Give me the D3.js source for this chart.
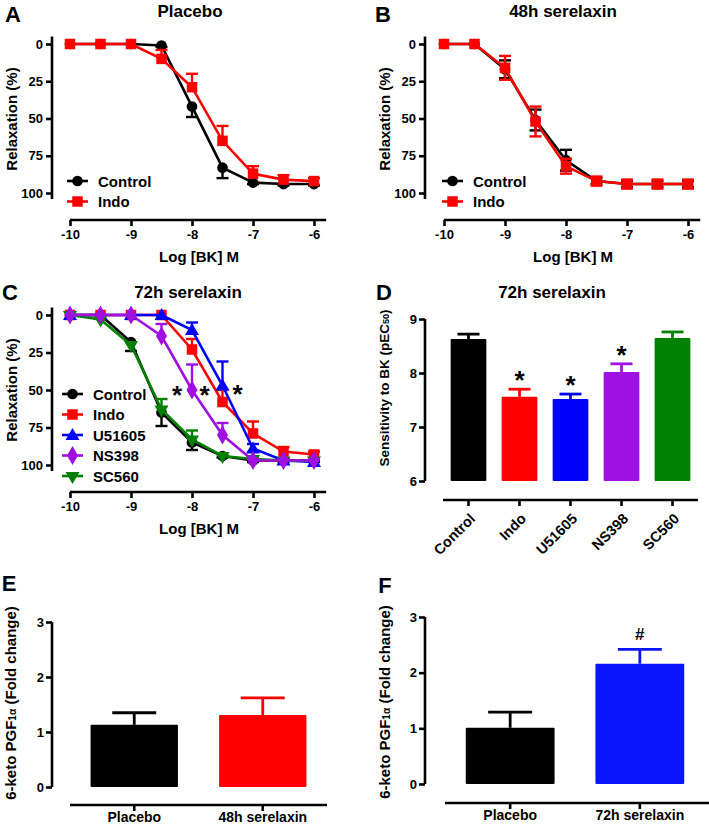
<!DOCTYPE html>
<html><head><meta charset="utf-8">
<script src="https://cdn.jsdelivr.net/npm/d3@7"></script>
<style>
body{margin:0;background:#fff}
text{font-family:"Liberation Sans",Arial,sans-serif;font-weight:bold;fill:#000}
</style>
</head><body><svg id="c" width="709" height="826"></svg>
<script>
// ---------- DATA ----------
const doses = [-10, -9.5, -9, -8.5, -8, -7.5, -7, -6.5, -6];
const doseTicks = [-10, -9, -8, -7, -6];
const relaxTicks = [0, 25, 50, 75, 100];

// Panel A (Placebo)
const placeboControl = [0, 0, 0, 1, 42, 83, 93, 94, 94];
const placeboControlErr = [0, 0, 0, 1, 7, 7, 1, 1, 1];
const placeboIndo = [0, 0, 0, 10, 29, 65, 87, 91, 92];
const placeboIndoErr = [0, 0, 0, 6, 9, 10, 5, 3, 2];

// Panel B (48h serelaxin)
const s48Control = [0, 0, 17, 51, 78, 92, 94, 94, 94];
const s48ControlErr = [0, 0, 6, 7, 7, 2, 2, 2, 2];
const s48Indo = [0, 0, 16, 52, 82, 92, 94, 94, 94];
const s48IndoErr = [0, 0, 8, 10, 5, 3, 3, 3, 3];

// Panel C (72h serelaxin)
const s72Control = [0, 0, 18, 65, 85, 94, 97, 97, 97];
const s72ControlErr = [0, 0, 6, 9, 5, 1, 1, 1, 1];
const s72Indo = [0, 0, 0, 0, 23, 58, 79, 91, 93];
const s72IndoErr = [0, 0, 0, 0, 7, 8, 8, 3, 2];
const s72U51605 = [0, 0, 0, 0, 10, 47, 89, 97, 98];
const s72U51605Err = [0, 0, 0, 0, 5, 16, 3, 1, 1];
const s72NS398 = [0, 0, 0, 14, 50, 80, 97, 97, 97];
const s72NS398Err = [0, 0, 0, 8, 17, 8, 1, 1, 1];
const s72SC560 = [0, 3, 20, 63, 83, 94, 96, 97, 97];
const s72SC560Err = [0, 0, 0, 7, 6, 1, 1, 1, 1];

// Panel D
const dCategories = ["Control", "Indo", "U51605", "NS398", "SC560"];
const dPEC50 = [8.63, 7.56, 7.52, 8.02, 8.65];
const dPEC50Err = [0.09, 0.14, 0.09, 0.15, 0.11];
const dSig = ["", "*", "*", "*", ""];
const dTicks = [6, 7, 8, 9];

// Panel E
const eCategories = ["Placebo", "48h serelaxin"];
const eFold = [1.13, 1.31];
const eFoldErr = [0.22, 0.31];
const eSig = ["", ""];
// Panel F
const fCategories = ["Placebo", "72h serelaxin"];
const fFold = [1.01, 2.16];
const fFoldErr = [0.28, 0.26];
const fSig = ["", "#"];
const foldTicks = [0, 1, 2, 3];

// ---------- STYLE ----------
const C = {black:"#000000", red:"#ff0000", blue:"#0000ff", purple:"#a010e0", green:"#008000"};
const svg = d3.select("#c");
const SW = 2.6;

function styleAxis(g){
  g.selectAll(".domain").attr("stroke","#000").attr("stroke-width",SW).attr("fill","none");
  g.selectAll(".tick line").attr("stroke","#000").attr("stroke-width",SW);
  g.selectAll(".tick text").attr("font-family","Liberation Sans, Arial, sans-serif").attr("font-weight","bold").attr("font-size",13).attr("fill","#000");
}

function symbolPath(shape, size){
  const map = {circle:d3.symbolCircle, square:d3.symbolSquare, triangle:d3.symbolTriangle, diamond:d3.symbolDiamond, triDown:d3.symbolTriangle};
  return d3.symbol().type(map[shape]).size(size)();
}
const symSize = {circle:90, square:110, triangle:85, diamond:105, triDown:85};
function marker(g, shape, color, cx, cy){
  g.append("path").attr("d", symbolPath(shape, symSize[shape]))
   .attr("transform", `translate(${cx},${cy})` + (shape==="triDown" ? " rotate(180)" : (shape==="triangle"?" translate(0,1)":"")))
   .attr("fill", color);
}

function label(x, y, txt, size, opts={}){
  const t = svg.append("text").attr("x",x).attr("y",y).attr("font-size",size)
    .attr("text-anchor", opts.anchor || "middle").attr("dominant-baseline","central").text(txt);
  return t;
}
function rotLabel(x, y, parts, size){
  const t = svg.append("text").attr("transform",`translate(${x},${y}) rotate(-90)`)
    .attr("text-anchor","middle").attr("dominant-baseline","central").attr("font-size",size);
  parts.forEach(p=>{
    const ts = t.append("tspan").text(p.t);
    if(p.sub){ ts.attr("font-size", size*0.68).attr("baseline-shift","-25%"); }
  });
}

function lineChart(o){
  const x = d3.scaleLinear().domain([-10,-6]).range([o.x0, o.x1]);
  const y = d3.scaleLinear().domain([0,100]).range([o.y0, o.y100]);
  const g = svg.append("g");
  const ya = g.append("g").attr("transform",`translate(${o.ax},0)`)
    .call(d3.axisLeft(y).tickValues(relaxTicks).tickSize(6).tickPadding(3));
  ya.select(".domain").attr("d", `M0,${y(-5)}V${y(104)}`);
  styleAxis(ya);
  const xa = g.append("g").attr("transform",`translate(0,${o.axisY})`)
    .call(d3.axisBottom(x).tickValues(doseTicks).tickFormat(d=>String(d)).tickSize(6).tickPadding(4));
  xa.select(".domain").attr("d", `M${x(-10)},0H${x(-5.8)}`);
  styleAxis(xa);
  label((x(-10)+x(-5.8))/2 + 1, o.axisY + 36, "Log [BK] M", 15);

  const line = d3.line().x((d,i)=>x(doses[i])).y(d=>y(d));
  o.series.forEach(s=>{
    const sg = g.append("g");
    sg.append("path").attr("d", line(s.v)).attr("fill","none").attr("stroke",s.color).attr("stroke-width",2.6);
    s.v.forEach((v,i)=>{
      const e = s.e[i]; if(!e) return;
      const cx = x(doses[i]);
      const ends = s.dir==="down" ? [v+e] : s.dir==="up" ? [v-e] : [v-e, v+e];
      ends.forEach(en=>{
        sg.append("line").attr("x1",cx).attr("x2",cx).attr("y1",y(v)).attr("y2",y(en)).attr("stroke",s.color).attr("stroke-width",2.4);
        sg.append("line").attr("x1",cx-6).attr("x2",cx+6).attr("y1",y(en)).attr("y2",y(en)).attr("stroke",s.color).attr("stroke-width",2.4);
      });
    });
    s.v.forEach((v,i)=> marker(sg, s.shape, s.color, x(doses[i]), y(v)));
  });
  // legend
  o.legendOrder.forEach((s,k)=>{
    const ly = o.leg.y + k*o.leg.dy;
    g.append("line").attr("x1",o.leg.x).attr("x2",o.leg.x+21).attr("y1",ly).attr("y2",ly).attr("stroke",s.color).attr("stroke-width",2.6);
    marker(g, s.shape, s.color, o.leg.x+10.5, ly);
    label(o.leg.x+31, ly, s.name, 15, {anchor:"start"});
  });
  return {x,y};
}

function barChart(o){
  const x = d3.scaleBand().domain(o.cats).range([o.x0,o.x1]).paddingInner(o.pi).paddingOuter(o.po);
  const y = d3.scaleLinear().domain(o.dom).range(o.rng);
  const g = svg.append("g");
  const ya = g.append("g").attr("transform",`translate(${o.ax},0)`)
    .call(d3.axisLeft(y).tickValues(o.ticks).tickSize(6).tickPadding(2).tickFormat(d=>String(d)));
  ya.select(".domain").attr("d", `M0,${y(o.dom[1])}V${y(o.dom[0])}`);
  styleAxis(ya);
  const xa = g.append("g").attr("transform",`translate(0,${o.axisY})`)
    .call(d3.axisBottom(x).tickSize(6).tickPadding(2));
  xa.select(".domain").attr("d", `M${o.x0},0H${o.xEnd}`);
  styleAxis(xa);
  if(o.rotate){
    xa.selectAll(".tick text").attr("text-anchor","end").attr("font-size",14.5)
      .attr("y",0).attr("dx","0").attr("dy","0.35em")
      .attr("transform","translate(4,16) rotate(-45)");
  } else {
    xa.selectAll(".tick text").attr("font-size",14).attr("y",7).attr("dy","0.71em");
  }
  o.cats.forEach((c,i)=>{
    const bx = x(c), bw = x.bandwidth(), col = o.colors[i];
    const top = y(o.vals[i]), et = y(o.vals[i]+o.errs[i]);
    g.append("line").attr("x1",bx+bw/2).attr("x2",bx+bw/2).attr("y1",top).attr("y2",et).attr("stroke",col).attr("stroke-width",2.8);
    g.append("line").attr("x1",bx+bw/2-o.cap/2).attr("x2",bx+bw/2+o.cap/2).attr("y1",et).attr("y2",et).attr("stroke",col).attr("stroke-width",2.8);
    g.append("rect").attr("x",bx).attr("y",top).attr("width",bw).attr("height",y(o.dom[0])-top).attr("fill",col).attr("rx",1);
    if(o.sig[i]){
      label(bx+bw/2, et - o.sigOff, o.sig[i], o.sigSize);
    }
  });
}

// ---------- PANEL A ----------
lineChart({
  x0:70, x1:314, ax:52, y0:44, y100:193, axisY:220,
  series:[
    {name:"Control", v:placeboControl, e:placeboControlErr, dir:"down", color:C.black, shape:"circle"},
    {name:"Indo", v:placeboIndo, e:placeboIndoErr, dir:"up", color:C.red, shape:"square"}
  ],
  get legendOrder(){return this.series;},
  leg:{x:67, y:181, dy:20.5}
});
label(190, 11, "Placebo", 17);
label(13, 14, "A", 22);
rotLabel(11, 119, [{t:"Relaxation (%)"}], 15);

// ---------- PANEL B ----------
lineChart({
  x0:444, x1:688, ax:425, y0:44, y100:193, axisY:220,
  series:[
    {name:"Control", v:s48Control, e:s48ControlErr, dir:"both", color:C.black, shape:"circle"},
    {name:"Indo", v:s48Indo, e:s48IndoErr, dir:"both", color:C.red, shape:"square"}
  ],
  get legendOrder(){return this.series;},
  leg:{x:442, y:181, dy:20.5}
});
label(563, 11, "48h serelaxin", 17);
label(383, 14, "B", 22);
rotLabel(384, 119, [{t:"Relaxation (%)"}], 15);

// ---------- PANEL C ----------
const cSeries = {
  control:{name:"Control", v:s72Control, e:s72ControlErr, dir:"down", color:C.black, shape:"circle"},
  indo:{name:"Indo", v:s72Indo, e:s72IndoErr, dir:"up", color:C.red, shape:"square"},
  u:{name:"U51605", v:s72U51605, e:s72U51605Err, dir:"up", color:C.blue, shape:"triangle"},
  ns:{name:"NS398", v:s72NS398, e:s72NS398Err, dir:"up", color:C.purple, shape:"diamond"},
  sc:{name:"SC560", v:s72SC560, e:s72SC560Err, dir:"up", color:C.green, shape:"triDown"}
};
const cs = lineChart({
  x0:70, x1:314, ax:52, y0:315, y100:465, axisY:492,
  series:[cSeries.control, cSeries.indo, cSeries.u, cSeries.sc, cSeries.ns],
  legendOrder:[cSeries.control, cSeries.indo, cSeries.u, cSeries.ns, cSeries.sc],
  leg:{x:62, y:394, dy:20.5}
});
// significance asterisks next to curves
label(cs.x(-8)-15, cs.y(50)+5, "*", 26);
label(cs.x(-7.5)-18, cs.y(50)+5, "*", 26);
label(cs.x(-7.5)+15, cs.y(49)+5, "*", 26);
label(188, 292, "72h serelaxin", 17);
label(10, 292, "C", 22);
rotLabel(11, 390, [{t:"Relaxation (%)"}], 15);

// ---------- PANEL D ----------
barChart({
  cats:dCategories, vals:dPEC50, errs:dPEC50Err, sig:dSig,
  colors:[C.black, C.red, C.blue, C.purple, C.green],
  x0:443, x1:698, xEnd:698, pi:0.3, po:0.15, axisY:500, ax:425,
  dom:[6,9], rng:[481,319], ticks:dTicks, cap:22, rotate:true, sigOff:9, sigSize:26
});
label(552, 292, "72h serelaxin", 17);
label(384, 292, "D", 22);
rotLabel(384, 388, [{t:"Sensitivity to BK (pEC"},{t:"50",sub:true},{t:")"}], 13.5);

// ---------- PANEL E ----------
barChart({
  cats:eCategories, vals:eFold, errs:eFoldErr, sig:eSig,
  colors:[C.black, C.red],
  x0:70, x1:327, xEnd:327, pi:0.32, po:0.16, axisY:805, ax:52,
  dom:[0,3], rng:[787,622], ticks:foldTicks, cap:44, rotate:false, sigOff:14, sigSize:17
});
label(9, 583, "E", 22);
rotLabel(10, 703, [{t:"6-keto PGF"},{t:"1α",sub:true},{t:"  (Fold change)"}], 15);

// ---------- PANEL F ----------
barChart({
  cats:fCategories, vals:fFold, errs:fFoldErr, sig:fSig,
  colors:[C.black, "#0a14ff"],
  x0:445, x1:705, xEnd:709, pi:0.315, po:0.16, axisY:803, ax:425,
  dom:[0,3], rng:[784,617], ticks:foldTicks, cap:44, rotate:false, sigOff:15, sigSize:17
});
label(385, 585, "F", 22);
rotLabel(384, 702, [{t:"6-keto PGF"},{t:"1α",sub:true},{t:"  (Fold change)"}], 15);
</script>
</body></html>
